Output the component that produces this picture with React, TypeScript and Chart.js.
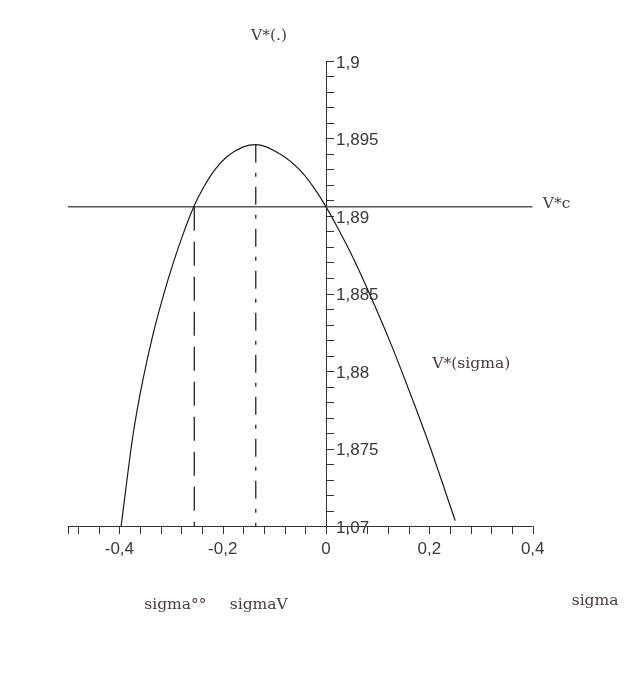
import React, { useEffect, useRef } from "react";
import { Chart, registerables } from "chart.js";

Chart.register(...registerables);

// Curve V*(sigma)
const sigmaValues = [-0.397, -0.373, -0.354, -0.335, -0.315, -0.296, -0.277, -0.255, -0.238, -0.215, -0.192, -0.16, -0.136, -0.089, -0.05, -0.025, 0, 0.024, 0.053, 0.085, 0.124, 0.156, 0.195, 0.25];
const vValues = [1.8699, 1.876, 1.8795, 1.88235, 1.88485, 1.88694, 1.8888, 1.89067, 1.89179, 1.89299, 1.89382, 1.89446, 1.8946, 1.894, 1.89294, 1.89189, 1.89059, 1.88915, 1.88726, 1.88492, 1.88188, 1.87916, 1.87569, 1.87035];

// Reference levels
const vStarC = 1.8906;
const sigmaOO = -0.255;
const sigmaV = -0.136;
const vPeak = 1.8946;

// Axes
const xMin = -0.5;
const xMax = 0.4;
const yMin = 1.87;
const yMax = 1.9;
const xTickValues = [-0.5, -0.48, -0.44, -0.4, -0.36, -0.32, -0.28, -0.24, -0.2, -0.16, -0.12, -0.08, -0.04, 0, 0.04, 0.08, 0.12, 0.16, 0.2, 0.24, 0.28, 0.32, 0.36, 0.4];
const xLabelValues = [-0.4, -0.2, 0, 0.2, 0.4];
const xLabelTexts = ["-0,4", "-0,2", "0", "0,2", "0,4"];
const yMinorStep = 0.001;
const yLabelValues = [1.9, 1.895, 1.89, 1.885, 1.88, 1.875, 1.87];
const yLabelTexts = ["1,9", "1,895", "1,89", "1,885", "1,88", "1,875", "1,07"];

export default function App() {
  const ref = useRef<HTMLCanvasElement | null>(null);

  useEffect(() => {
    document.body.style.margin = "0";
    const canvas = ref.current;
    if (!canvas) return;

    const axesPlugin = {
      id: "mapleAxes",
      beforeDatasetsDraw(chart: any) {
        const { ctx } = chart;
        const xs = chart.scales.x;
        const ys = chart.scales.y;
        const x0 = xs.getPixelForValue(0);
        const yb = ys.getPixelForValue(yMin);
        ctx.save();
        ctx.strokeStyle = "#333333";
        ctx.lineWidth = 1;
        ctx.beginPath();
        // x axis
        ctx.moveTo(xs.getPixelForValue(xMin), Math.round(yb) + 0.5);
        ctx.lineTo(xs.getPixelForValue(xMax), Math.round(yb) + 0.5);
        for (const v of xTickValues) {
          const px = Math.round(xs.getPixelForValue(v)) + 0.5;
          ctx.moveTo(px, yb);
          ctx.lineTo(px, yb + 8);
        }
        // y axis
        const ax = Math.round(x0) + 0.5;
        ctx.moveTo(ax, ys.getPixelForValue(yMax));
        ctx.lineTo(ax, yb);
        const n = Math.round((yMax - yMin) / yMinorStep);
        for (let i = 0; i <= n; i++) {
          const py = Math.round(ys.getPixelForValue(yMin + i * yMinorStep)) + 0.5;
          ctx.moveTo(x0, py);
          ctx.lineTo(x0 + 8, py);
        }
        ctx.stroke();

        ctx.fillStyle = "#3a3a3a";
        ctx.font = "17px 'Liberation Sans', Arial, sans-serif";
        ctx.textBaseline = "middle";
        ctx.textAlign = "left";
        yLabelValues.forEach((v, i) => {
          ctx.fillText(yLabelTexts[i], x0 + 10, ys.getPixelForValue(v) + 2);
        });
        ctx.textAlign = "center";
        xLabelValues.forEach((v, i) => {
          ctx.fillText(xLabelTexts[i], xs.getPixelForValue(v), yb + 23);
        });
        ctx.restore();
      },
      afterDraw(chart: any) {
        const { ctx } = chart;
        const xs = chart.scales.x;
        const ys = chart.scales.y;
        const yb = ys.getPixelForValue(yMin);
        ctx.save();
        ctx.fillStyle = "#4a3c38";
        ctx.font = "15.5px 'DejaVu Serif', serif";
        ctx.textBaseline = "middle";
        ctx.textAlign = "left";
        ctx.fillText("V*(.)", xs.getPixelForValue(0) - 75, ys.getPixelForValue(yMax) - 25);
        ctx.fillText("V*c", xs.getPixelForValue(xMax) + 10, ys.getPixelForValue(vStarC) - 3);
        ctx.fillText("V*(sigma)", xs.getPixelForValue(0.2) + 3, ys.getPixelForValue(1.88) - 7);
        ctx.fillText("sigma°°", xs.getPixelForValue(sigmaOO) - 50, yb + 79);
        ctx.fillText("sigmaV", xs.getPixelForValue(sigmaV) - 26, yb + 79);
        ctx.fillText("sigma", xs.getPixelForValue(xMax) + 39, yb + 75);
        ctx.restore();
      },
    };

    const chart = new Chart(canvas, {
      type: "scatter",
      data: {
        datasets: [
          {
            label: "V*(sigma)",
            data: sigmaValues.map((s, i) => ({ x: s, y: vValues[i] })),
            showLine: true,
            borderColor: "#1a1a1a",
            borderWidth: 1.2,
            pointRadius: 0,
            cubicInterpolationMode: "monotone",
          },
          {
            label: "V*c",
            data: [
              { x: xMin, y: vStarC },
              { x: xMax, y: vStarC },
            ],
            showLine: true,
            borderColor: "#555555",
            borderWidth: 1.6,
            pointRadius: 0,
          },
          {
            label: "sigma°°",
            data: [
              { x: sigmaOO, y: vStarC },
              { x: sigmaOO, y: yMin },
            ],
            showLine: true,
            borderColor: "#222222",
            borderWidth: 1.3,
            borderDash: [24, 11],
            pointRadius: 0,
          },
          {
            label: "sigmaV",
            data: [
              { x: sigmaV, y: vPeak },
              { x: sigmaV, y: yMin },
            ],
            showLine: true,
            borderColor: "#222222",
            borderWidth: 1.3,
            borderDash: [18, 10, 4, 10],
            pointRadius: 0,
          },
        ],
      },
      options: {
        responsive: false,
        animation: false,
        layout: { padding: { left: 67.7, right: 111.3, top: 61, bottom: 149 } },
        scales: {
          x: { type: "linear", min: xMin, max: xMax, display: false },
          y: { type: "linear", min: yMin, max: yMax, display: false },
        },
        plugins: { legend: { display: false }, tooltip: { enabled: false } },
      },
      plugins: [axesPlugin],
    });
    return () => chart.destroy();
  }, []);

  return (
    <div style={{ width: 644, height: 675, background: "#ffffff" }}>
      <canvas ref={ref} width={644} height={675} style={{ display: "block", width: 644, height: 675 }} />
    </div>
  );
}
